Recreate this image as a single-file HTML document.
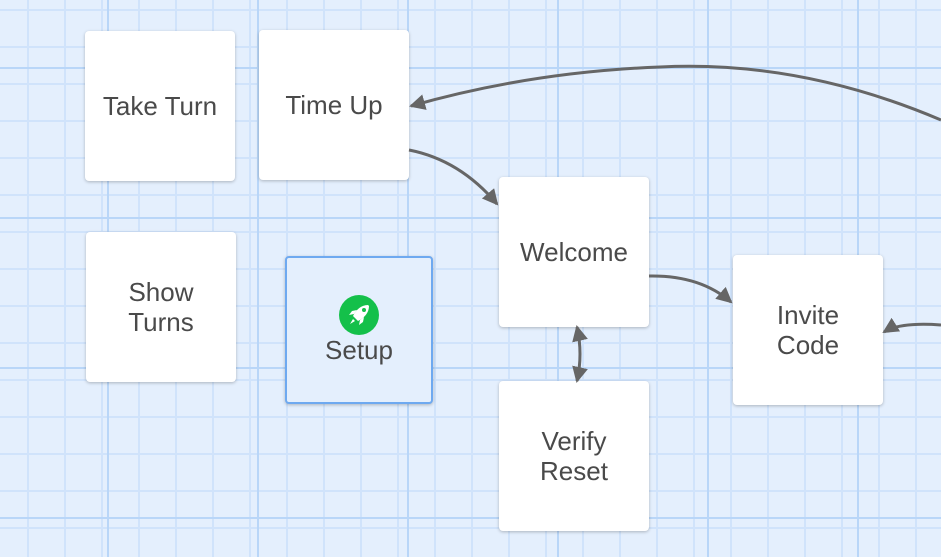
<!DOCTYPE html>
<html><head><style>
html,body{margin:0;padding:0}
body{width:941px;height:557px;overflow:hidden;position:relative;background:#e4effd;font-family:"Liberation Sans",sans-serif;}
.grid{position:absolute;inset:0;
background-image:
linear-gradient(to right,#b9d6f8 2px,transparent 2px),
linear-gradient(to bottom,#b9d6f8 2px,transparent 2px),
linear-gradient(to right,#d0e3fb 2px,transparent 2px),
linear-gradient(to bottom,#d0e3fb 2px,transparent 2px);
background-size:150px 150px,150px 150px,37px 37px,37px 37px;
background-position:107px 0,0 67px,27px 0,0 9px;}
.n{position:absolute;width:150px;height:150px;background:#fff;border-radius:4px;box-shadow:0 1px 3px rgba(0,0,0,.25);display:flex;align-items:center;justify-content:center;text-align:center;color:#4a4a4a;font-size:26px;line-height:30px;flex-direction:column}
.sel{background:#e4effd;border:2px solid #6ea9f0;box-sizing:border-box;width:148px;height:148px}
svg{position:absolute;left:0;top:0}
</style></head><body>
<div class="grid"></div>
<div class="n" style="left:85px;top:31px">Take Turn</div>
<div class="n" style="left:259px;top:30px">Time Up</div>
<div class="n" style="left:86px;top:232px">Show<br>Turns</div>
<div class="n sel" style="left:285px;top:256px;justify-content:flex-start"><svg width="40" height="40" viewBox="0 0 40 40" style="position:relative;margin-top:37px"><circle cx="20" cy="20" r="20" fill="#14c04a"/><path d="M29,10 C22,10 17,15 14,21 L19,26 C25,23 30,18 30,11 Z" fill="#fff"/><path d="M15,19 L10,20 L13,16 L18,15Z M21,25 L20,30 L24,27 L25,22Z M14,24 L11,29 L16,26Z" fill="#fff"/><circle cx="25" cy="15" r="2" fill="#14c04a"/></svg><div style="margin-top:0px">Setup</div></div>
<div class="n" style="left:499px;top:177px">Welcome</div>
<div class="n" style="left:499px;top:381px">Verify<br>Reset</div>
<div class="n" style="left:733px;top:255px">Invite<br>Code</div>
<svg width="941" height="557">
<defs><marker id="a" markerWidth="16" markerHeight="16" refX="14" refY="8" orient="auto-start-reverse" markerUnits="userSpaceOnUse" viewBox="0 0 16 16"><path d="M0,0L16,8L0,16z" fill="#666"/></marker></defs>
<g fill="none" stroke="#666" stroke-width="3" marker-end="url(#a)">
<path d="M409,150 Q460,160 497,204"/>
<path d="M941,120 Q800,60 660,67 Q530,72 411,106"/>
<path d="M649,276 Q700,275 731,302"/>
<path d="M941,325 Q900,322 884,332"/>
<path d="M577,327 Q583,354 577,381" marker-start="url(#a)"/>
</g>
</svg>
</body></html>
